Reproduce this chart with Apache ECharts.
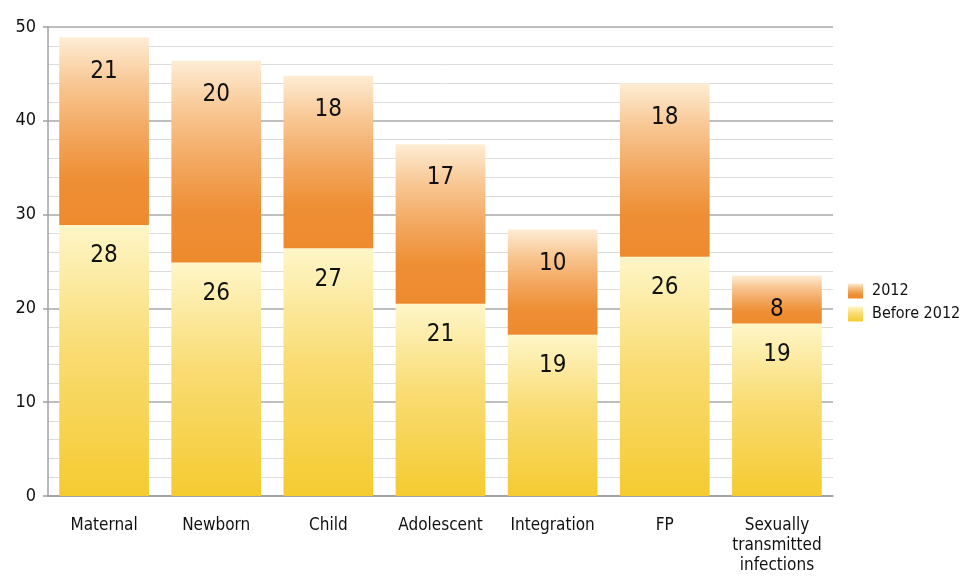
<!DOCTYPE html>
<html>
<head>
<meta charset="utf-8">
<script src="https://cdn.jsdelivr.net/npm/echarts@6/dist/echarts.min.js"></script>
<style>
  html, body { margin: 0; padding: 0; background: #fff; }
  #chart { width: 965px; height: 576px; }
</style>
</head>
<body>
<div id="chart"></div>
<script>
// categories
var categories = ["Maternal", "Newborn", "Child", "Adolescent", "Integration", "FP", "Sexually\ntransmitted\ninfections"];
// bar heights as drawn in the picture
var before2012 = [28.9, 24.9, 26.4, 20.5, 17.2, 25.5, 18.4];
var in2012 = [20.0, 21.5, 18.4, 17.0, 11.2, 18.5, 5.1];
// numbers printed on the bars
var before2012Labels = [28, 26, 27, 21, 19, 26, 19];
var in2012Labels = [21, 20, 18, 17, 10, 18, 8];

var font = "'DejaVu Sans Condensed', 'Liberation Sans Narrow', sans-serif";

var chart = echarts.init(document.getElementById("chart"));

var orangeGrad = new echarts.graphic.LinearGradient(0, 0, 0, 1, [
    { offset: 0, color: "#FEEDD5" },
    { offset: 0.25, color: "#F8C692" },
    { offset: 0.5, color: "#F3A860" },
    { offset: 0.75, color: "#EE8F35" },
    { offset: 1, color: "#EE8A2E" }
]);
var yellowGrad = new echarts.graphic.LinearGradient(0, 0, 0, 1, [
    { offset: 0, color: "#FEF6C8" },
    { offset: 0.45, color: "#F9DC74" },
    { offset: 1, color: "#F5CB30" }
]);

var option = {
    animation: false,
    textStyle: { fontFamily: font },
    grid: {
        left: 48,
        right: 132,
        top: 27,
        bottom: 78
    },
    legend: {
        orient: "vertical",
        left: 843,
        top: 278,
        itemWidth: 15,
        itemHeight: 15,
        itemGap: 7,
        icon: "rect",
        textStyle: { fontSize: 16, color: "#111", fontFamily: font, padding: [0, 0, 0, 4] },
        data: ["2012", "Before 2012"]
    },
    xAxis: {
        type: "category",
        data: categories,
        axisLine: { lineStyle: { color: "#9a9a9a", width: 1.5 } },
        axisTick: { show: false },
        axisLabel: {
            interval: 0,
            fontSize: 17,
            color: "#111",
            margin: 20,
            lineHeight: 20,
            fontFamily: font
        }
    },
    yAxis: {
        type: "value",
        min: 0,
        max: 50,
        interval: 10,
        axisLine: { show: true, lineStyle: { color: "#a0a0a0", width: 1.5 } },
        axisTick: { show: true, length: 5, lineStyle: { color: "#a0a0a0", width: 1.5 } },
        axisLabel: { fontSize: 18, color: "#111", margin: 12, fontFamily: font },
        splitLine: { lineStyle: { color: "#a8a8a8", width: 1.5 } },
        minorTick: { show: false, splitNumber: 5 },
        minorSplitLine: { show: true, lineStyle: { color: "#dcdcdc", width: 1 } }
    },
    series: [
        {
            name: "Before 2012",
            type: "bar",
            stack: "total",
            barCategoryGap: "20%",
            itemStyle: { color: yellowGrad },
            label: {
                show: true,
                position: "insideTop",
                distance: 19,
                fontSize: 24,
                color: "#111",
                fontFamily: font,
                formatter: function (p) { return before2012Labels[p.dataIndex]; }
            },
            data: before2012
        },
        {
            name: "2012",
            type: "bar",
            stack: "total",
            barCategoryGap: "20%",
            itemStyle: { color: orangeGrad },
            label: {
                show: true,
                position: "insideTop",
                distance: 22,
                fontSize: 24,
                color: "#111",
                fontFamily: font,
                formatter: function (p) { return in2012Labels[p.dataIndex]; }
            },
            data: in2012
        }
    ]
};
chart.setOption(option);
</script>
</body>
</html>
